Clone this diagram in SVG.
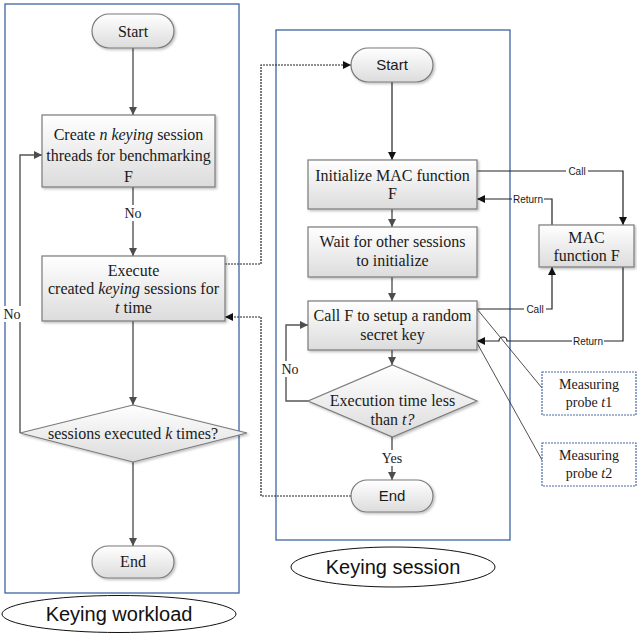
<svg xmlns="http://www.w3.org/2000/svg" width="637" height="634" viewBox="0 0 637 634">
<defs>
<linearGradient id="g" x1="0" y1="0" x2="0" y2="1">
<stop offset="0" stop-color="#ffffff"/>
<stop offset="1" stop-color="#dcdcdc"/>
</linearGradient>
<filter id="sh" x="-10%" y="-10%" width="125%" height="140%">
<feDropShadow dx="1.5" dy="1.5" stdDeviation="1" flood-color="#000" flood-opacity="0.25"/>
</filter>
<marker id="ag" viewBox="0 0 10 10" refX="10" refY="5" markerWidth="8" markerHeight="8" markerUnits="userSpaceOnUse" orient="auto">
<path d="M0,0 L10,5 L0,10 z" fill="#4d4d4d"/>
</marker>
<marker id="ab" viewBox="0 0 10 10" refX="10" refY="5" markerWidth="8" markerHeight="8" markerUnits="userSpaceOnUse" orient="auto">
<path d="M0,0 L10,5 L0,10 z" fill="#111"/>
</marker>
</defs>
<style>
.frame{fill:none;stroke:#3d64a0;stroke-width:1.3}
.node{fill:url(#g);stroke:#7a7a7a;stroke-width:1.2;filter:url(#sh)}
.probe{fill:#fff;stroke:#4a6aa5;stroke-width:1.2;stroke-dasharray:2 1}
.ser{font-family:"Liberation Serif","Times New Roman",serif;font-size:16px;fill:#1a1a1a;text-anchor:middle}
.sans{font-family:"Liberation Sans",Arial,sans-serif;font-size:15px;fill:#1a1a1a;text-anchor:middle}
.lbl{font-family:"Liberation Serif","Times New Roman",serif;font-size:14px;fill:#1a1a1a;text-anchor:middle}
.sm{font-family:"Liberation Sans",Arial,sans-serif;font-size:10px;fill:#1a1a1a;text-anchor:middle}
.big{font-family:"Liberation Sans",Arial,sans-serif;font-size:20px;fill:#111;text-anchor:middle}
.cg{fill:none;stroke:#555;stroke-width:1.4;marker-end:url(#ag)}
.cb{fill:none;stroke:#222;stroke-width:1.2;marker-end:url(#ab)}
.cd{fill:none;stroke:#222;stroke-width:1.2;stroke-dasharray:2 1;marker-end:url(#ab)}
.thin{fill:none;stroke:#222;stroke-width:0.8}
.bg{fill:#fff}
</style>

<rect class="frame" x="5" y="4" width="234" height="589"/>
<rect class="frame" x="276" y="30" width="234" height="510"/>

<g id="connectors">
<path class="cg" d="M133,48 V115"/>
<path class="cg" d="M133,187 V256"/>
<path class="cg" d="M133,321 V405"/>
<path class="cg" d="M133,462 V546"/>
<path class="cg" d="M20,433 V155 H42"/>
<path class="cd" d="M225,264 H261 V65 H351"/>
<path class="cd" d="M351,496 H261 V317 H225"/>
<path class="cb" d="M392,82 V160"/>
<path class="cg" d="M392,209 V227"/>
<path class="cg" d="M392,277 V301"/>
<path class="cg" d="M392,350 V365"/>
<path class="cg" d="M392,437 V480"/>
<path class="cg" d="M308,401 H286 V325 H308"/>
<path class="cb" d="M477,171 H623 V225"/>
<path class="cb" d="M552,225 V199 H477"/>
<path class="cb" d="M477,309 H552 V267"/>
<path class="cb" d="M623,267 V341 H507 A4,4 0 0 0 499,341 H477"/>
<path class="thin" d="M477,309 L542,388"/>
<path class="thin" d="M477,343 L542,460"/>
<rect class="bg" x="4" y="306" width="17" height="16"/>
<text class="lbl" x="12" y="319">No</text>
<rect class="bg" x="124" y="205" width="18" height="16"/>
<text class="lbl" x="133" y="218">No</text>
<rect class="bg" x="281" y="361" width="18" height="16"/>
<text class="lbl" x="290" y="374">No</text>
<rect class="bg" x="381" y="450" width="22" height="16"/>
<text class="lbl" x="392" y="463">Yes</text>
<rect class="bg" x="566" y="165" width="22" height="12"/>
<text class="sm" x="577" y="174.5">Call</text>
<rect class="bg" x="512" y="193" width="32" height="12"/>
<text class="sm" x="528" y="202.5">Return</text>
<rect class="bg" x="524" y="303" width="22" height="12"/>
<text class="sm" x="535" y="312.5">Call</text>
<rect class="bg" x="572" y="335" width="32" height="12"/>
<text class="sm" x="588" y="344.5">Return</text>
</g>

<g id="start1">
<rect class="node" x="92" y="14" width="82" height="34" rx="17"/>
<text class="ser" x="133" y="37">Start</text>
</g>
<g id="create">
<rect class="node" x="42" y="115" width="173" height="72"/>
<text class="ser" x="128.5" y="140">Create <tspan font-style="italic">n keying</tspan> session</text>
<text class="ser" x="128.5" y="161">threads for benchmarking</text>
<text class="ser" x="128.5" y="182">F</text>
</g>
<g id="execute">
<rect class="node" x="42" y="256" width="183" height="65"/>
<text class="ser" x="133.5" y="276">Execute</text>
<text class="ser" x="133.5" y="294">created <tspan font-style="italic">keying</tspan> sessions for</text>
<text class="ser" x="133.5" y="313"><tspan font-style="italic">t</tspan> time</text>
</g>
<g id="decision1">
<polygon class="node" points="133,405 247,433 133,462 20,433"/>
<text class="ser" x="133" y="439">sessions executed <tspan font-style="italic">k</tspan> times?</text>
</g>
<g id="end1">
<rect class="node" x="92" y="546" width="82" height="32" rx="16"/>
<text class="ser" x="133" y="567">End</text>
</g>
<g id="workload">
<ellipse cx="119" cy="614" rx="117" ry="18.5" fill="#fff" stroke="#111" stroke-width="1"/>
<text class="big" x="119" y="621">Keying workload</text>
</g>

<g id="start2">
<rect class="node" x="351" y="48" width="82" height="34" rx="17"/>
<text class="sans" x="392" y="70">Start</text>
</g>
<g id="init">
<rect class="node" x="308" y="160" width="169" height="49"/>
<text class="ser" x="392.5" y="181">Initialize MAC function</text>
<text class="ser" x="392.5" y="199">F</text>
</g>
<g id="wait">
<rect class="node" x="308" y="227" width="169" height="50"/>
<text class="ser" x="392.5" y="247">Wait for other sessions</text>
<text class="ser" x="392.5" y="266">to initialize</text>
</g>
<g id="call">
<rect class="node" x="308" y="301" width="169" height="49"/>
<text class="ser" x="392.5" y="321">Call F to setup a random</text>
<text class="ser" x="392.5" y="340">secret key</text>
</g>
<g id="decision2">
<polygon class="node" points="392.5,365 477,401 392.5,437 308,401"/>
<text class="ser" x="392.5" y="406">Execution time less</text>
<text class="ser" x="392.5" y="425">than <tspan font-style="italic">t?</tspan></text>
</g>
<g id="end2">
<rect class="node" x="351" y="480" width="82" height="32" rx="16"/>
<text class="sans" x="392" y="501">End</text>
</g>
<g id="session">
<ellipse cx="393" cy="567" rx="102" ry="20" fill="#fff" stroke="#111" stroke-width="1"/>
<text class="big" x="393" y="574">Keying session</text>
</g>

<g id="mac">
<rect class="node" x="539" y="225" width="95" height="42"/>
<text class="ser" x="586.5" y="243">MAC</text>
<text class="ser" x="586.5" y="261">function F</text>
</g>
<g id="probe1">
<rect class="probe" x="542" y="372" width="94" height="43"/>
<text class="lbl" x="589" y="389">Measuring</text>
<text class="lbl" x="589" y="407">probe <tspan font-style="italic">t</tspan>1</text>
</g>
<g id="probe2">
<rect class="probe" x="542" y="443" width="94" height="43"/>
<text class="lbl" x="589" y="460">Measuring</text>
<text class="lbl" x="589" y="478">probe <tspan font-style="italic">t</tspan>2</text>
</g>
</svg>
